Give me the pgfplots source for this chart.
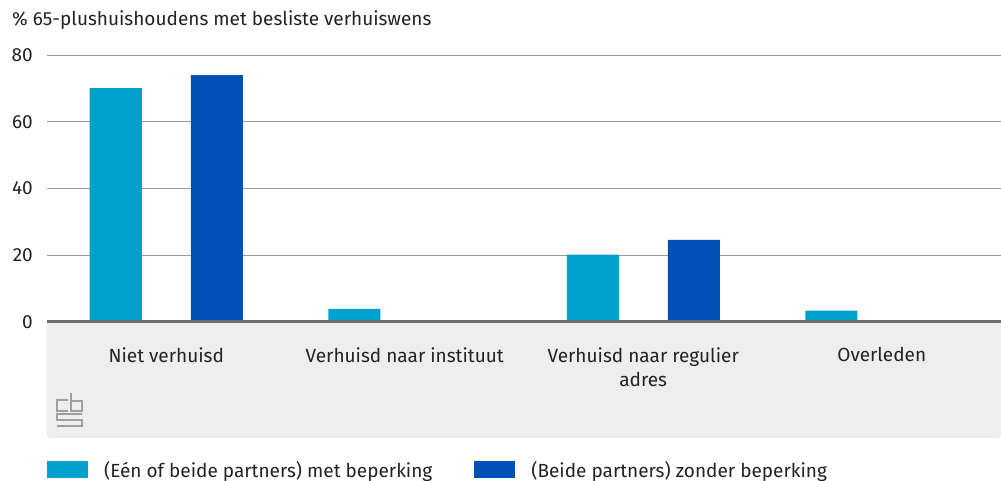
\documentclass[border=0pt]{standalone}
\usepackage{pgfplots}
\pgfplotsset{compat=1.18}
\usepackage{fontspec}
\setmainfont{Fira Sans}
\definecolor{lightb}{HTML}{00A1CD}
\definecolor{darkb}{HTML}{0050B8}
\definecolor{txt}{HTML}{222222}
\definecolor{panel}{HTML}{EEEEEE}
\definecolor{gridc}{HTML}{9A9A9A}
\definecolor{axc}{HTML}{6E6E6E}
\begin{document}
\begin{tikzpicture}[x=1pt,y=1pt]
\useasboundingbox (0pt,0pt) rectangle (1001pt,481pt);
\fill[panel, rounded corners=3pt] (47pt,43pt) rectangle (1001pt,160pt);
% CBS logo (approximation)
\begin{scope}[draw=gray!75, line width=1.3pt, line join=miter]
\draw (68pt,81pt) -- (57pt,81pt) -- (57pt,70pt) -- (68pt,70pt);
\draw (71pt,88pt) -- (71pt,70pt) -- (82pt,70pt) -- (82pt,80pt) -- (71pt,80pt);
\draw (82pt,67pt) -- (57pt,67pt) -- (57pt,61pt) -- (82pt,61pt) -- (82pt,55pt) -- (57pt,55pt);
\end{scope}
\node[anchor=base west, text=txt, font=\fontsize{19}{22}\selectfont, inner sep=0pt] at (12pt,455pt) {\% 65-plushuishoudens met besliste verhuiswens};
\begin{axis}[
  at={(47pt,159pt)}, anchor=south west,
  width=954pt, height=267pt, scale only axis,
  xmin=-0.5, xmax=3.5, ymin=0, ymax=80,
  ytick={0,20,40,60,80},
  xtick={0,1,2,3},
  xticklabels={Niet verhuisd, Verhuisd naar instituut, {Verhuisd naar regulier\\adres}, Overleden},
  ymajorgrids, grid style={gridc, line width=0.6pt},
  major tick length=0pt,
  axis line style={draw=none},
  tick label style={text=txt, font=\fontsize{19}{24}\selectfont},
  /pgf/number format/assume math mode=true,
  yticklabel style={anchor=east, inner sep=0pt, xshift=-14pt},
  xticklabel style={align=center, anchor=north, inner sep=0pt, yshift=-25pt},
  ybar=49pt, bar width=52pt,
  legend style={at={(0,-0.554)}, anchor=west, draw=none, fill=none, inner sep=0pt,
    legend columns=2, font=\fontsize{19}{22}\selectfont, text=txt,
    /tikz/every odd column/.append style={column sep=14pt},
    /tikz/every even column/.append style={column sep=40pt}},
  legend image code/.code={\fill[#1] (0pt,-8.5pt) rectangle (41pt,8.5pt);},
  clip=false,
]
\addplot[fill=lightb, draw=none] coordinates {(0,70.1) (1,3.9) (2,20.2) (3,3.4)};
\addplot[fill=darkb, draw=none] coordinates {(0,74.0) (1,0.2) (2,24.6) (3,0.3)};
\legend{(Eén of beide partners) met beperking, (Beide partners) zonder beperking}
\draw[axc, line width=3pt] (axis cs:-0.5,0) -- (axis cs:3.5,0);
\end{axis}
\end{tikzpicture}
\end{document}
